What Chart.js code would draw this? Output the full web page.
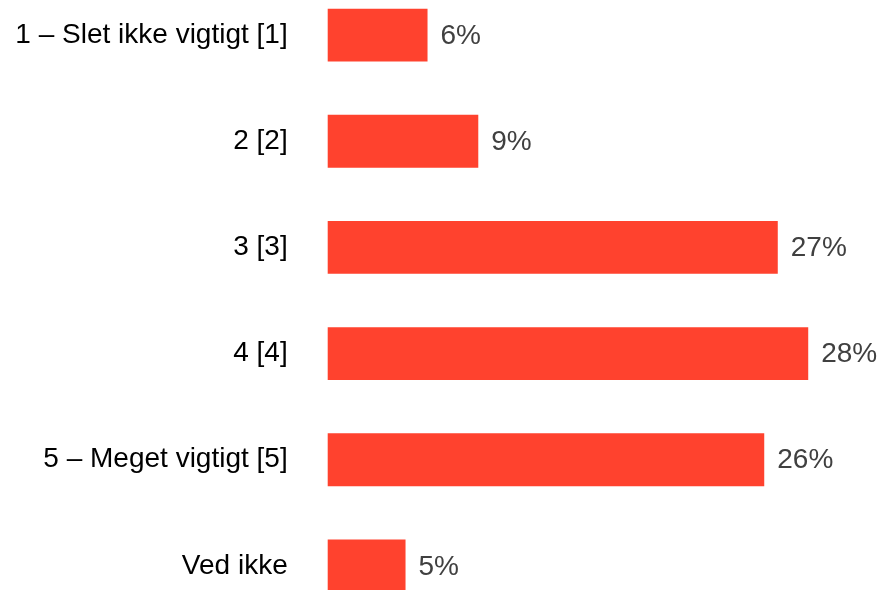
<!DOCTYPE html>
<html>
<head>
<meta charset="utf-8">
<script src="https://cdn.jsdelivr.net/npm/chart.js@4/dist/chart.umd.min.js"></script>
<style>
  html, body { margin: 0; padding: 0; background: #fff; overflow: hidden; }
  #wrap { position: relative; width: 884px; height: 590px; overflow: hidden; }
  #chart { position: absolute; left: 0; top: -18px; }
</style>
</head>
<body>
<div id="wrap"><canvas id="chart" width="884" height="637"></canvas></div>
<script>
const categories = [
  "1 – Slet ikke vigtigt [1]",
  "2 [2]",
  "3 [3]",
  "4 [4]",
  "5 – Meget vigtigt [5]",
  "Ved ikke"
];
const shares = [5.9, 8.9, 26.6, 28.4, 25.8, 4.6];
const shareLabels = ["6%", "9%", "27%", "28%", "26%", "5%"];

const FONT = "'Liberation Sans', Arial, sans-serif";

// draws the percentage to the right of each bar
const valueLabels = {
  id: "valueLabels",
  afterDatasetsDraw(chart) {
    const ctx = chart.ctx;
    const meta = chart.getDatasetMeta(0);
    ctx.save();
    ctx.font = "28px " + FONT;
    ctx.fillStyle = "#404040";
    ctx.textAlign = "left";
    ctx.textBaseline = "middle";
    meta.data.forEach((bar, i) => {
      ctx.fillText(shareLabels[i], bar.x + 13, bar.y + 1);
    });
    ctx.restore();
  }
};

new Chart(document.getElementById("chart"), {
  type: "bar",
  data: {
    labels: categories,
    datasets: [{
      data: shares,
      backgroundColor: "#ff422e",
      borderWidth: 0,
      clip: false,
      categoryPercentage: 1,
      barPercentage: 0.497
    }]
  },
  options: {
    indexAxis: "y",
    responsive: false,
    animation: false,
    devicePixelRatio: 1,
    layout: { padding: { top: 0, bottom: 0, left: 0, right: 48.7 } },
    plugins: { legend: { display: false }, tooltip: { enabled: false } },
    scales: {
      x: {
        display: false,
        min: 0,
        max: 30
      },
      y: {
        grid: { display: false, drawTicks: false },
        border: { display: false },
        ticks: {
          color: "#000",
          padding: 40,
          font: { family: FONT, size: 28 }
        },
        afterFit(scale) {
          scale.width = 327.7;
          scale.paddingTop = 0;
          scale.paddingBottom = 0;
        }
      }
    }
  },
  plugins: [valueLabels]
});
</script>
</body>
</html>
